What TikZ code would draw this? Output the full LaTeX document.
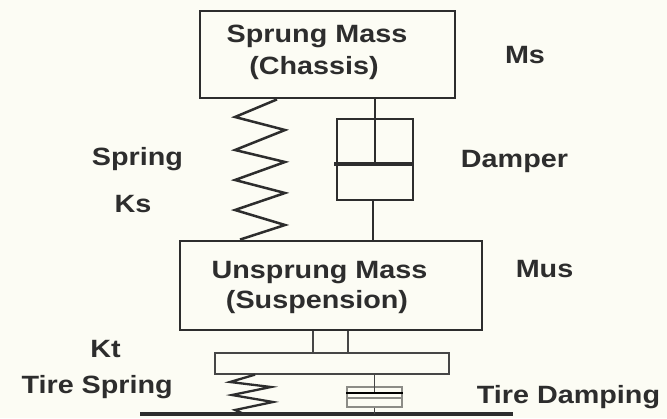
\documentclass[tikz,border=0pt]{standalone}
\usepackage{fontspec}
\setmainfont{Liberation Sans}
\definecolor{bgc}{RGB}{252,252,244}
\definecolor{ink}{RGB}{45,45,45}
\definecolor{thin}{RGB}{70,70,70}
\definecolor{light}{RGB}{140,140,135}
\newcommand{\lbl}[1]{\scalebox{1.15}[1]{#1}}
\begin{document}
\begin{tikzpicture}[x=1pt,y=-1pt,
  txt/.style={inner sep=0pt, anchor=base, text=ink, font=\fontsize{25}{30}\selectfont\bfseries},
  massbox/.style={draw=ink, line width=2.8pt, inner sep=0pt},
  tirebox/.style={draw=thin, line width=1.3pt, inner sep=0pt},
  spr/.style={draw=ink, line width=2.5pt, line join=miter},
  rod/.style={draw=ink, line width=2.8pt},
  trod/.style={draw=thin, line width=1.3pt},
  lrod/.style={draw=light, line width=1.1pt}]
\fill[bgc] (0,0) rectangle (667,418);
\useasboundingbox (0,0) rectangle (667,418);
% masses
\node[massbox, minimum width=255pt, minimum height=87pt] (ms) at (327.5,54.5) {};
\node[massbox, minimum width=302pt, minimum height=89pt] (mus) at (331,285.5) {};
\node[tirebox, minimum width=234pt, minimum height=21pt] (plate) at (332,363.5) {};
% damper cylinder
\node[draw=ink, line width=1.8pt, inner sep=0pt, minimum width=76pt, minimum height=81pt] (cyl) at (375,159.5) {};
\coordinate (pis) at (375,164);
\draw[rod] (ms.south -| pis) -- (pis);
\draw[ink, line width=4pt] ([xshift=-2pt]cyl.west |- pis) -- (cyl.east |- pis);
\draw[rod] (cyl.south -| 373,0) -- (mus.north -| 373,0);
% spring
\draw[spr] (ms.south -| 277,0) -- (235,117) -- (285,130) -- (235,150) -- (285,162) -- (235,180) -- (285,193) -- (235,210) -- (285,225) -- (mus.north -| 240,0);
% connector block
\draw[trod] (mus.south -| 313,0) -- (plate.north -| 313,0);
\draw[trod] (mus.south -| 348,0) -- (plate.north -| 348,0);
% ground
\coordinate (g1) at (140,414);
\coordinate (g2) at (513,414);
\draw[ink, line width=3.5pt] (g1) -- (g2);
% tire spring
\draw[spr, line width=2.3pt] (plate.south -| 255,0) -- (230,382) -- (271,387) -- (232,395) -- (273,402) -- (235,410) -- (244,414);
% tire damper
\node[draw=light, line width=1.1pt, inner sep=0pt, minimum width=55pt, minimum height=20pt] (tcyl) at (374.5,397) {};
\draw[trod] (plate.south -| tcyl.north) -- (tcyl.north |- 0,393);
\draw[thin, line width=1.6pt] (tcyl.west |- 0,393) -- (tcyl.east |- 0,393);
\draw[lrod] (tcyl.west |- 0,398) -- (tcyl.east |- 0,398);
\draw[trod] (tcyl.south) -- (tcyl.south |- g1);
% texts
\node[txt] (t1) at (317,42) {\lbl{Sprung Mass}};
\node[txt] (t2) at (314,74) {\lbl{(Chassis)}};
\node[txt] (t3) at (319.5,278) {\lbl{Unsprung Mass}};
\node[txt] (t4) at (317,308) {\lbl{(Suspension)}};
\node[txt] (lms) at (525,63) {\lbl{Ms}};
\node[txt] (ldamp) at (514.5,167) {\lbl{Damper}};
\node[txt] (lmus) at (544.5,277) {\lbl{Mus}};
\node[txt] (lsp) at (137.5,165) {\lbl{Spring}};
\node[txt] (lks) at (133,212) {\lbl{Ks}};
\node[txt] (lkt) at (105.5,357) {\lbl{Kt}};
\node[txt, anchor=base east] (lts) at (173,393) {\lbl{Tire Spring}};
\node[txt] (ltd) at (568.5,403) {\lbl{Tire Damping}};
\end{tikzpicture}
\end{document}
